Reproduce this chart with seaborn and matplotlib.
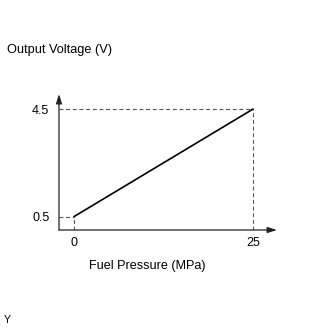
import matplotlib
matplotlib.use("Agg")
import matplotlib.pyplot as plt
import seaborn as sns
import pandas as pd

# Sensor characteristic: fuel pressure vs. output voltage
pressure_mpa = [0, 25]
output_volts = [0.5, 4.5]
x_ticks = [0, 25]
y_ticks = [0.5, 4.5]
x_label = "Fuel Pressure (MPa)"
y_label = "Output Voltage (V)"
corner_mark = "Y"

sns.set_theme(style="white")
plt.rcParams["font.family"] = ["Liberation Sans", "DejaVu Sans"]

df = pd.DataFrame({"pressure": pressure_mpa, "volts": output_volts})

fig = plt.figure(figsize=(3.3, 3.3), dpi=100)
fig.patch.set_facecolor("white")
ax = fig.add_axes([0.1788, 0.3030, 0.6606, 0.4121])
ax.set_facecolor("white")

x_min, x_max = -2.1, 28.35
y_min, y_max = 0.0, 5.06
ax.set_xlim(x_min, x_max)
ax.set_ylim(y_min, y_max)

# characteristic line
sns.lineplot(data=df, x="pressure", y="volts", ax=ax, color="black",
             linewidth=1.2, zorder=3)

# dashed guides from each point back to both axes
dash_kw = dict(colors="#555555", linewidth=0.8, linestyles=(0, (3.5, 2.5)), zorder=2)
ax.hlines(output_volts, x_min, pressure_mpa, **dash_kw)
ax.vlines(pressure_mpa, y_min, output_volts, **dash_kw)

# axes drawn as arrows
for s in ax.spines.values():
    s.set_visible(False)
arrow_kw = dict(arrowstyle="-|>,head_length=0.7,head_width=0.22",
                color="#222222", linewidth=0.9, mutation_scale=8,
                shrinkA=0, shrinkB=0)
ax.annotate("", xy=(1, 0), xytext=(0, 0), xycoords="axes fraction",
            textcoords="axes fraction", arrowprops=arrow_kw, annotation_clip=False)
ax.annotate("", xy=(0, 1), xytext=(0, 0), xycoords="axes fraction",
            textcoords="axes fraction", arrowprops=arrow_kw, annotation_clip=False)

ax.set_xticks(x_ticks)
ax.set_xticklabels([str(v) for v in x_ticks])
ax.set_yticks(y_ticks)
ax.set_yticklabels([f"{v:.1f}" for v in y_ticks])
ax.tick_params(axis="x", length=0, pad=5, labelsize=9, colors="black")
ax.tick_params(axis="y", length=0, pad=7, labelsize=9, colors="black")
ax.set_xlabel("")
ax.set_ylabel("")
ax.grid(False)

fig.text(147 / 330, 1 - 266.5 / 330, x_label, ha="center", va="center",
         fontsize=9.1, color="black")
fig.text(7 / 330, 1 - 50.5 / 330, y_label, ha="left", va="center",
         fontsize=9.2, color="black")
fig.text(4 / 330, 1 - 320 / 330, corner_mark, ha="left", va="center",
         fontsize=7.5, color="black")

fig.savefig("out.png", dpi=100, facecolor="white")
